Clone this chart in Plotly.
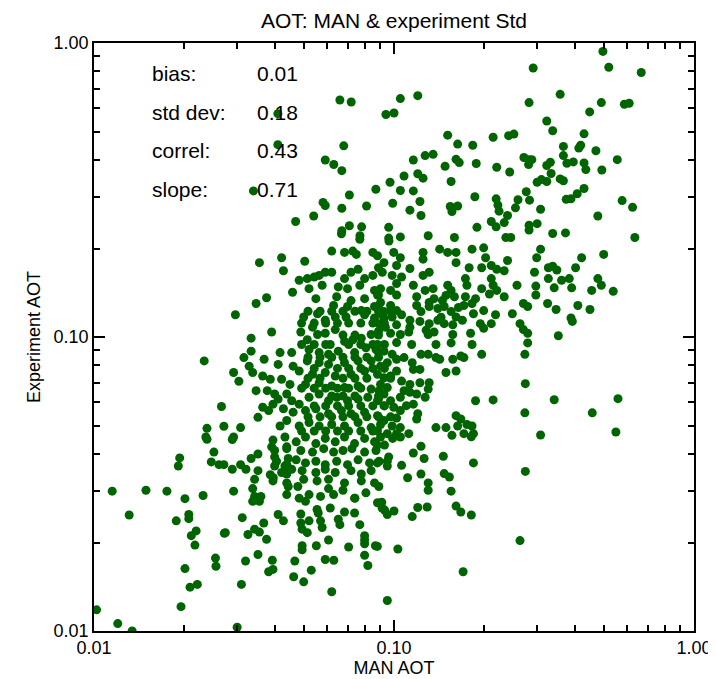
import plotly.graph_objects as go

# MAN AOT (x) and Experiment AOT (y)
man_aot = [
    0.066, 0.072, 0.041, 0.068, 0.041, 0.059, 0.063, 0.067, 0.034, 0.087, 0.071, 0.058, 0.059, 0.067, 0.081,
    0.054, 0.047, 0.071, 0.067, 0.078, 0.077,
    0.291, 0.282, 0.120, 0.105, 0.094, 0.100, 0.151, 0.163, 0.183, 0.214, 0.241, 0.251, 0.116, 0.127, 0.135,
    0.161, 0.165, 0.148, 0.188, 0.220, 0.243, 0.271, 0.282, 0.288, 0.281, 0.120, 0.125, 0.108, 0.097, 0.105,
    0.116, 0.155, 0.186, 0.099, 0.122, 0.113, 0.123, 0.154, 0.163, 0.156, 0.219, 0.222, 0.224, 0.259, 0.254,
    0.276, 0.283, 0.300, 0.239, 0.233, 0.211, 0.219, 0.282, 0.282, 0.300, 0.189, 0.096, 0.130, 0.105, 0.159,
    0.236, 0.245, 0.096,
    0.497, 0.520, 0.667, 0.358, 0.491, 0.586, 0.608, 0.449, 0.323, 0.338, 0.430, 0.367, 0.413, 0.419, 0.471,
    0.367, 0.377, 0.396, 0.430, 0.436, 0.493, 0.555, 0.332, 0.323, 0.334, 0.310, 0.323, 0.358, 0.367, 0.408,
    0.430, 0.375, 0.389, 0.576, 0.624, 0.308, 0.478, 0.338, 0.373, 0.635,
    0.308, 0.299, 0.422, 0.500, 0.403, 0.327, 0.338, 0.349, 0.294, 0.327, 0.362, 0.384, 0.478, 0.491, 0.297,
    0.297, 0.342, 0.391, 0.456, 0.538, 0.325, 0.347, 0.410, 0.450, 0.389, 0.393, 0.353,
    0.342, 0.558, 0.458, 0.549, 0.308,
    0.156, 0.181, 0.274, 0.263, 0.184, 0.146, 0.126, 0.116, 0.123, 0.111, 0.123, 0.130, 0.130, 0.147, 0.153,
    0.155, 0.161, 0.167, 0.181, 0.129, 0.120, 0.115, 0.106, 0.096, 0.095, 0.095, 0.088, 0.089, 0.091, 0.093,
    0.100, 0.095, 0.088, 0.103, 0.170, 0.095, 0.099, 0.105, 0.093, 0.088,
    0.0289, 0.030, 0.062, 0.031, 0.032, 0.0274, 0.0292, 0.0312, 0.0352, 0.0393, 0.0395, 0.0382, 0.0467, 0.0463,
    0.050, 0.053, 0.059, 0.063, 0.0494, 0.0494, 0.0551, 0.0605, 0.0706, 0.0798, 0.0798, 0.0798, 0.0818, 0.0867,
    0.0326, 0.0343, 0.0356, 0.0368, 0.0376, 0.0411, 0.0428, 0.0489, 0.0489, 0.0494, 0.0514, 0.0521, 0.0559,
    0.0569, 0.0576, 0.0613, 0.0652, 0.066, 0.0684, 0.0739, 0.0769, 0.0798, 0.0338, 0.0343, 0.0356, 0.036,
    0.0338, 0.0387, 0.0271, 0.0289, 0.0308, 0.0321, 0.0334, 0.0352, 0.0352, 0.0391, 0.040, 0.040, 0.0396,
    0.0439, 0.0444, 0.0433, 0.0439, 0.0444, 0.0439, 0.0478, 0.0507, 0.0521, 0.0569, 0.0605, 0.0629, 0.0676,
    0.0741, 0.0881, 0.0554,
    0.0395, 0.0433, 0.0472, 0.0507, 0.0549, 0.059, 0.0637, 0.0684, 0.0739, 0.0798, 0.0861, 0.0902,
    0.040, 0.0439, 0.0489, 0.0535, 0.0583, 0.0629, 0.0676, 0.0724, 0.0798, 0.0871,
    0.0406, 0.0439, 0.0472, 0.0507, 0.0549, 0.059, 0.0644, 0.070, 0.0759, 0.0829, 0.0892,
    0.0422, 0.0456, 0.0494, 0.0549, 0.059, 0.0637, 0.0719, 0.0778, 0.0839,
    0.0395, 0.0439, 0.050, 0.0554, 0.0605, 0.0684, 0.0778, 0.0861,
    0.0343, 0.0483, 0.0739, 0.0806, 0.0913,
    0.0238, 0.0251, 0.0193, 0.0191, 0.0246, 0.0261, 0.0115, 0.0149, 0.0175, 0.0201, 0.0231, 0.0131, 0.0207,
    0.0207, 0.0188, 0.0219, 0.0211, 0.0217, 0.0272, 0.0254, 0.0255, 0.0201, 0.0209, 0.0221, 0.0195, 0.0102,
    0.012, 0.0134,
    0.0233, 0.0266, 0.0238, 0.0271, 0.0236,
    0.0668, 0.0769, 0.0356, 0.0422, 0.0504, 0.0428, 0.062, 0.0684, 0.0729, 0.0749, 0.085, 0.0483, 0.0514,
    0.0542, 0.0563, 0.059, 0.062, 0.0521, 0.0576, 0.0684, 0.0719, 0.0759, 0.0798, 0.085, 0.0652, 0.070, 0.0769,
    0.0861, 0.0459, 0.0549, 0.0376, 0.0347, 0.0644, 0.0719, 0.0798, 0.0881, 0.0629, 0.070, 0.0778, 0.0861,
    0.0296, 0.050, 0.0556, 0.059, 0.0637, 0.0692, 0.0798, 0.0861, 0.0914, 0.0391, 0.0489, 0.0535, 0.0556,
    0.059, 0.0637, 0.0514, 0.0684, 0.0729, 0.0778, 0.0839, 0.0334, 0.0613, 0.0521, 0.0563, 0.0605, 0.0652,
    0.0739, 0.0806, 0.0871, 0.0334, 0.0316, 0.0417, 0.0456, 0.0369, 0.0514, 0.0563, 0.0605, 0.0684, 0.0759,
    0.0839, 0.0329, 0.0338, 0.0411, 0.0461, 0.0483, 0.0535, 0.059, 0.0637, 0.0719, 0.0798, 0.0881, 0.0292,
    0.0304, 0.0365, 0.0387, 0.0422, 0.045, 0.0507, 0.0563, 0.062, 0.0684, 0.0759, 0.0839, 0.0902, 0.0347,
    0.0378, 0.040, 0.0411, 0.0395, 0.0439, 0.0456, 0.0483, 0.0521, 0.0563, 0.0605, 0.0644, 0.070, 0.0759,
    0.0818, 0.0881, 0.0365, 0.0382, 0.0428, 0.0461, 0.0507, 0.0549, 0.0605, 0.0668, 0.0719, 0.0798, 0.0881,
    0.0352, 0.0308, 0.0417, 0.0439, 0.0483, 0.0521, 0.0563, 0.062, 0.0684, 0.0759, 0.0839, 0.0902, 0.0292,
    0.0962, 0.0881, 0.0926, 0.0998, 0.105, 0.125, 0.125, 0.142, 0.151, 0.161, 0.182, 0.199, 0.161, 0.178,
    0.202, 0.211, 0.196, 0.220, 0.233, 0.239, 0.113, 0.0914, 0.0986, 0.106, 0.125, 0.131, 0.116, 0.173, 0.175,
    0.211, 0.214, 0.196, 0.208, 0.220, 0.233, 0.257,
    0.0902, 0.0974, 0.102, 0.119, 0.127, 0.135, 0.136, 0.131, 0.151, 0.155, 0.159, 0.145, 0.173, 0.171, 0.182,
    0.187, 0.0902, 0.0974, 0.0926, 0.0986, 0.123, 0.131, 0.140, 0.147, 0.155, 0.161, 0.113, 0.122, 0.131,
    0.140, 0.147, 0.157, 0.169, 0.184, 0.199, 0.218, 0.211, 0.194, 0.199, 0.248, 0.270, 0.279, 0.263, 0.270,
    0.279, 0.106, 0.102, 0.105, 0.112, 0.113, 0.0926, 0.0892, 0.0936, 0.0974, 0.130, 0.136, 0.157, 0.155,
    0.180, 0.182, 0.279, 0.273, 0.0881, 0.0926, 0.0986, 0.102, 0.095, 0.0902, 0.108, 0.115, 0.116, 0.122,
    0.123, 0.130, 0.138, 0.142, 0.157, 0.167, 0.171, 0.196, 0.149, 0.161, 0.0926, 0.0974,
    0.095, 0.0892, 0.0926, 0.106, 0.113, 0.122, 0.131, 0.130, 0.127, 0.119, 0.113, 0.108, 0.105, 0.0974,
    0.0926, 0.0998, 0.105, 0.110, 0.116, 0.120, 0.119, 0.187, 0.214, 0.274, 0.273, 0.161, 0.167, 0.163, 0.175,
    0.182, 0.184, 0.171, 0.138, 0.149, 0.0926, 0.0986, 0.105, 0.0881, 0.095, 0.102, 0.112,
]

exp_aot = [
    0.64, 0.63, 0.575, 0.447, 0.451, 0.40, 0.386, 0.368, 0.314, 0.318, 0.304, 0.287, 0.280, 0.274, 0.279,
    0.258, 0.247, 0.239, 0.230, 0.237, 0.221,
    0.822, 0.627, 0.662, 0.647, 0.571, 0.578, 0.486, 0.453, 0.449, 0.478, 0.484, 0.490, 0.400, 0.414, 0.418,
    0.402, 0.392, 0.381, 0.389, 0.378, 0.364, 0.408, 0.401, 0.401, 0.386, 0.359, 0.347, 0.353, 0.336, 0.315,
    0.314, 0.338, 0.300, 0.285, 0.289, 0.270, 0.259, 0.278, 0.279, 0.267, 0.295, 0.281, 0.268, 0.293, 0.275,
    0.312, 0.292, 0.336, 0.259, 0.245, 0.247, 0.237, 0.240, 0.231, 0.243, 0.236, 0.236, 0.221, 0.219, 0.218,
    0.218, 0.218, 0.217,
    0.936, 0.827, 0.794, 0.669, 0.627, 0.619, 0.624, 0.583, 0.543, 0.503, 0.491, 0.445, 0.439, 0.449, 0.430,
    0.414, 0.390, 0.394, 0.391, 0.371, 0.370, 0.401, 0.393, 0.383, 0.360, 0.343, 0.338, 0.345, 0.340, 0.307,
    0.320, 0.294, 0.295, 0.291, 0.276, 0.272, 0.258, 0.225, 0.226, 0.218,
    0.199, 0.186, 0.186, 0.191, 0.172, 0.172, 0.174, 0.169, 0.166, 0.158, 0.156, 0.158, 0.158, 0.150, 0.149,
    0.139, 0.147, 0.147, 0.144, 0.143, 0.130, 0.124, 0.128, 0.124, 0.116, 0.113, 0.101,
    0.0612, 0.0617, 0.0552, 0.0475, 0.0464,
    0.0463, 0.0458, 0.0349, 0.0203, 0.0373, 0.0393, 0.0386, 0.0403, 0.0425, 0.0332, 0.0342, 0.0319, 0.0301,
    0.0343, 0.0334, 0.0299, 0.0266, 0.0254, 0.0248, 0.0264, 0.0263, 0.0245, 0.0366, 0.0391, 0.0364, 0.0378,
    0.0373, 0.0310, 0.0274, 0.0258, 0.0256, 0.0249, 0.0194, 0.0190, 0.0159, 0.0127, 0.0452, 0.0457, 0.0429,
    0.0429,
    0.0448, 0.0103, 0.0136, 0.0144, 0.0173, 0.0216, 0.0299, 0.0243, 0.0182, 0.0174, 0.0162, 0.0159, 0.0173,
    0.0153, 0.0147, 0.0161, 0.0175, 0.0174, 0.0195, 0.0189, 0.0195, 0.0204, 0.0193, 0.0204, 0.0198, 0.0181,
    0.0167, 0.0195, 0.0213, 0.0222, 0.0217, 0.0233, 0.0205, 0.0249, 0.0237, 0.0250, 0.0233, 0.0222, 0.0216,
    0.0237, 0.0252, 0.0237, 0.0225, 0.0262, 0.0240, 0.0230, 0.0254, 0.0252, 0.0230, 0.0211, 0.0276, 0.0287,
    0.0276, 0.0287, 0.0305, 0.0340, 0.0368, 0.0355, 0.0368, 0.0355, 0.0386, 0.040, 0.0351, 0.0423, 0.0391,
    0.0364, 0.0332, 0.0423, 0.0386, 0.0364, 0.0342, 0.0310, 0.0291, 0.031, 0.0276, 0.0291, 0.0287, 0.0305,
    0.0291, 0.0301, 0.0283, 0.0273, 0.0259,
    0.0446, 0.0457, 0.0440, 0.0457, 0.0434, 0.0452, 0.0440, 0.0457, 0.0434, 0.0452, 0.0440, 0.0457,
    0.0411, 0.0417, 0.0411, 0.0406, 0.0417, 0.0406, 0.0411, 0.0417, 0.0406, 0.0411,
    0.0378, 0.0368, 0.0382, 0.0373, 0.0378, 0.0368, 0.0378, 0.0368, 0.0382, 0.0373, 0.0378,
    0.0346, 0.0355, 0.0351, 0.0346, 0.0355, 0.0346, 0.0351, 0.0342, 0.0351,
    0.0324, 0.0319, 0.0328, 0.0324, 0.0328, 0.0319, 0.0324, 0.0319,
    0.0328, 0.0283, 0.0283, 0.0295, 0.0262,
    0.0449, 0.0406, 0.0388, 0.0364, 0.0376, 0.0368, 0.0299, 0.0301, 0.0299, 0.0282, 0.0289, 0.0248, 0.0249,
    0.0241, 0.0237, 0.0219, 0.0211, 0.0196, 0.0215, 0.0177, 0.0166, 0.0163, 0.0141, 0.0144, 0.0121, 0.0118,
    0.0106, 0.0100,
    0.0829, 0.058, 0.0489, 0.0497, 0.0457,
    0.2245, 0.215, 0.179, 0.186, 0.181, 0.168, 0.196, 0.194, 0.196, 0.191, 0.194, 0.156, 0.158,
    0.160, 0.162, 0.166, 0.166, 0.146, 0.150, 0.158, 0.166, 0.170, 0.158, 0.162, 0.148, 0.146, 0.150,
    0.144, 0.142, 0.135, 0.136, 0.130, 0.137, 0.133, 0.135, 0.139, 0.128, 0.127, 0.123, 0.127,
    0.119, 0.117, 0.120, 0.114, 0.117, 0.117, 0.119, 0.116, 0.119, 0.104, 0.104, 0.108, 0.102,
    0.103, 0.106, 0.0979, 0.0966, 0.0979, 0.0991, 0.102, 0.0991, 0.0943, 0.0907, 0.0885, 0.0873, 0.0895,
    0.0885, 0.0919, 0.0907, 0.0895, 0.0851, 0.0885, 0.0885, 0.0840, 0.0829, 0.0818, 0.0807, 0.0818, 0.0829,
    0.0829, 0.0796, 0.0757, 0.0807, 0.0796, 0.0766, 0.0747, 0.0757, 0.0737, 0.0747, 0.0766, 0.0747, 0.0757,
    0.0707, 0.0737, 0.0718, 0.0718, 0.069, 0.069, 0.0698, 0.0681, 0.0673, 0.0681, 0.0665, 0.069, 0.0657,
    0.0657, 0.064, 0.0615, 0.0591, 0.064, 0.0607, 0.0591, 0.0624, 0.064, 0.0607, 0.0624, 0.0607, 0.0615,
    0.0624, 0.0607, 0.0577, 0.0562, 0.057, 0.0555, 0.0562, 0.057, 0.0548, 0.0562, 0.0548, 0.0555, 0.054,
    0.0533, 0.0492, 0.0498, 0.052, 0.0498, 0.0512, 0.0498, 0.0504, 0.0498, 0.0512, 0.0492, 0.0504, 0.0457,
    0.212, 0.189, 0.179, 0.194, 0.186, 0.194, 0.184, 0.199, 0.194, 0.194, 0.199, 0.201, 0.179, 0.172,
    0.186, 0.175, 0.172, 0.170, 0.168, 0.182, 0.171, 0.166, 0.162, 0.160, 0.162, 0.166, 0.150, 0.158, 0.150,
    0.158, 0.150, 0.146, 0.140, 0.144, 0.137, 0.150,
    0.146, 0.144, 0.139, 0.137, 0.144, 0.146, 0.135, 0.131, 0.150, 0.144, 0.137, 0.133, 0.137, 0.128, 0.130,
    0.135, 0.131, 0.128, 0.122, 0.117, 0.122, 0.127, 0.125, 0.127, 0.122, 0.117, 0.114, 0.113, 0.111,
    0.114, 0.111, 0.110, 0.114, 0.120, 0.123, 0.119, 0.111, 0.111, 0.107, 0.120, 0.130, 0.127, 0.111, 0.106,
    0.103, 0.119, 0.110, 0.102, 0.104, 0.108, 0.116, 0.111, 0.108, 0.103, 0.102, 0.104, 0.102, 0.0955,
    0.103, 0.0943, 0.0955, 0.0873, 0.0943, 0.0895, 0.0873, 0.084, 0.0818, 0.0796, 0.0851, 0.0818, 0.0776, 0.0776,
    0.0873, 0.0873, 0.0851, 0.084, 0.084, 0.0862, 0.0851, 0.0873, 0.0757, 0.0766, 0.0727, 0.0737,
    0.0673, 0.0657, 0.064, 0.0708, 0.069, 0.0699, 0.0699, 0.0665, 0.0624, 0.064, 0.0649, 0.0657, 0.0624, 0.0607,
    0.0584, 0.0577, 0.0562, 0.0584, 0.0591, 0.0548, 0.0526, 0.0607, 0.0611, 0.0694, 0.0552, 0.054, 0.0526, 0.0498, 0.0504,
    0.0498, 0.0469, 0.0469, 0.0492, 0.0492, 0.052, 0.0498, 0.0492, 0.048, 0.0469, 0.0469, 0.0469,
]

# Points hidden inside the solid, overlapping core of the cloud
man_aot_core = [
    0.0517, 0.0567, 0.062, 0.0676, 0.0741, 0.0812, 0.0888, 0.0974,
    0.0492, 0.0542, 0.0592, 0.0648, 0.0706, 0.0775, 0.085, 0.0929,
    0.0676, 0.0741, 0.0888,
    0.0492, 0.0542, 0.0592, 0.0706, 0.0775, 0.085, 0.0929,
    0.0517, 0.0567, 0.062, 0.0676, 0.0741, 0.0812, 0.0888,
    0.0542, 0.0648, 0.0706, 0.0775, 0.085, 0.0929,
    0.0517, 0.0567, 0.0676, 0.0741, 0.0812, 0.0974,
    0.0492, 0.0542, 0.0592, 0.0648, 0.0706, 0.0775,
    0.062, 0.0676, 0.0741, 0.0888,
    0.0542, 0.0592, 0.0648, 0.0706, 0.0775, 0.085, 0.0929,
    0.0517, 0.0567, 0.062, 0.0676, 0.0741, 0.0812, 0.0888, 0.0974,
    0.0492, 0.0542, 0.0592, 0.0648, 0.0706, 0.0775, 0.085,
    0.0888, 0.0888, 0.0888, 0.0888, 0.0888, 0.0888,
    0.102, 0.102, 0.102, 0.102, 0.102, 0.102,
    0.119, 0.1435, 0.128, 0.149, 0.164, 0.138, 0.1145,
]
exp_aot_core = [
    0.1223, 0.1223, 0.1223, 0.1223, 0.1223, 0.1223, 0.1223, 0.1223,
    0.1115, 0.1115, 0.1115, 0.1115, 0.1115, 0.1115, 0.1115, 0.1115,
    0.1015, 0.1015, 0.1015,
    0.0943, 0.0943, 0.0943, 0.0943, 0.0943, 0.0943, 0.0943,
    0.0853, 0.0853, 0.0853, 0.0853, 0.0853, 0.0853, 0.0853,
    0.0782, 0.0782, 0.0782, 0.0782, 0.0782, 0.0782,
    0.0724, 0.0724, 0.0724, 0.0724, 0.0724, 0.0724,
    0.067, 0.067, 0.067, 0.067, 0.067, 0.067,
    0.063, 0.063, 0.063, 0.063,
    0.0583, 0.0583, 0.0583, 0.0583, 0.0583, 0.0583, 0.0583,
    0.0535, 0.0535, 0.0535, 0.0535, 0.0535, 0.0535, 0.0535, 0.0535,
    0.0479, 0.0479, 0.0479, 0.0479, 0.0479, 0.0479, 0.0479,
    0.172, 0.139, 0.126, 0.1047, 0.0887, 0.0615,
    0.175, 0.152, 0.123, 0.0957, 0.0766, 0.053,
    0.128, 0.1167, 0.1055, 0.1385, 0.126, 0.0943, 0.0943,
]

minor_vals = [k * 0.01 for k in range(2, 10)] + [k * 0.1 for k in range(2, 10)]

stat_names = ["bias:", "std dev:", "correl:", "slope:"]
stat_values = ["0.01", "0.18", "0.43", "0.71"]

FONT = "Liberation Sans, Arial, Helvetica, sans-serif"
GREEN = "#006400"

fig = go.Figure()
fig.add_trace(go.Scatter(
    x=man_aot + man_aot_core, y=exp_aot + exp_aot_core, mode="markers",
    marker=dict(color=GREEN, size=9, line=dict(width=0)),
    hoverinfo="x+y",
))

axis_common = dict(
    type="log", range=[-2, 0],
    tickvals=[0.01, 0.1, 1.0], ticktext=["0.01", "0.10", "1.00"],
    ticks="inside", ticklen=11, tickwidth=1.5, tickcolor="black",
    showline=True, linecolor="black", linewidth=1.5, mirror="allticks",
    showgrid=False, zeroline=False,
    tickfont=dict(family=FONT, size=18, color="black"),
    minor=dict(tickvals=minor_vals, ticks="inside", ticklen=6, tickwidth=1.5,
               tickcolor="black", showgrid=False),
)

fig.update_xaxes(**axis_common, title=dict(text="MAN AOT", font=dict(family=FONT, size=18, color="black"), standoff=4))
fig.update_yaxes(**axis_common, title=dict(text="Experiment AOT", font=dict(family=FONT, size=18, color="black"), standoff=8))

y_rows = [0.948, 0.882, 0.8165, 0.751]
for name, val, yy in zip(stat_names, stat_values, y_rows):
    fig.add_annotation(x=0.093, y=yy, xref="paper", yref="paper", text=name, showarrow=False,
                       xanchor="left", yanchor="middle", font=dict(family=FONT, size=21, color="black"))
    fig.add_annotation(x=0.268, y=yy, xref="paper", yref="paper", text=val, showarrow=False,
                       xanchor="left", yanchor="middle", font=dict(family=FONT, size=21, color="black"))

fig.update_layout(
    width=716, height=679,
    margin=dict(l=86, r=18, t=35, b=50),
    paper_bgcolor="white", plot_bgcolor="white",
    showlegend=False,
    font=dict(family=FONT, color="black"),
    title=dict(text="AOT: MAN & experiment Std", x=0.5, xref="paper", xanchor="center",
               y=1 - 13 / 679, yref="container", yanchor="middle",
               font=dict(family=FONT, size=21, color="black")),
)

fig.write_html("out.html")
